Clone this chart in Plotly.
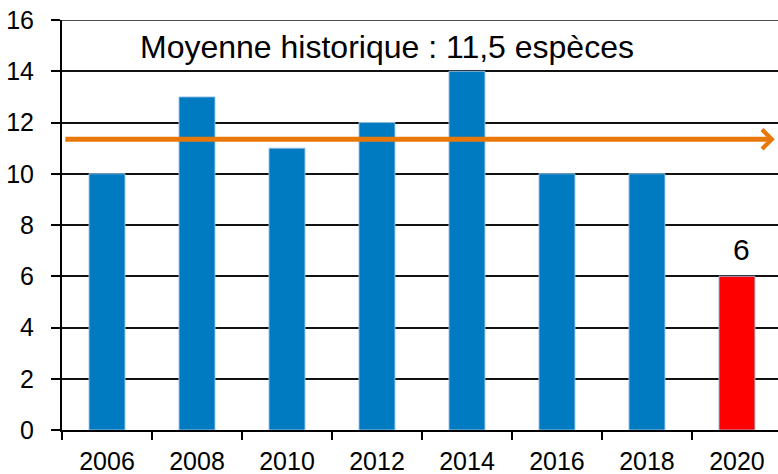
import plotly.graph_objects as go

years = ["2006", "2008", "2010", "2012", "2014", "2016", "2018", "2020"]
species = [10, 13, 11, 12, 14, 10, 10, 6]
bar_colors = ["#007AC0"] * 7 + ["#FF0000"]
mean_label = "Moyenne historique : 11,5 espèces"
mean_drawn = 11.35
y_ticks = [0, 2, 4, 6, 8, 10, 12, 14, 16]

FONT = "Liberation Sans, Arial, sans-serif"

fig = go.Figure()
fig.add_trace(go.Bar(
    x=years, y=species,
    marker=dict(color=bar_colors, line=dict(color="rgba(160,200,235,0.9)", width=1)),
    width=0.4,
))

# top gridline (at the edge of the plot area)
fig.add_shape(type="line", xref="paper", yref="y", x0=0, x1=1, y0=y_ticks[-1], y1=y_ticks[-1],
              line=dict(color="#111", width=1.5), layer="below")

# mean arrow
fig.add_annotation(
    x=len(years) - 0.58, y=mean_drawn, ax=-0.48, ay=mean_drawn,
    xref="x", yref="y", axref="x", ayref="y",
    showarrow=True, arrowhead=4, arrowsize=0.75, arrowwidth=5,
    arrowcolor="#E8780A", text="",
)
fig.add_annotation(
    x=0.4535, y=14.93, xref="paper", yref="y", text=mean_label, showarrow=False,
    xanchor="center", yanchor="middle", font=dict(size=32, color="black", family=FONT),
)
fig.add_annotation(
    x=len(years) - 1, y=species[-1], xref="x", yref="y", text=str(species[-1]),
    showarrow=False, xanchor="center", yanchor="bottom", xshift=5, yshift=8,
    font=dict(size=30, color="black", family=FONT),
)

fig.update_layout(
    width=778, height=474,
    margin=dict(l=62, r=0, t=20, b=44),
    paper_bgcolor="white", plot_bgcolor="white",
    showlegend=False,
    font=dict(family=FONT, size=25, color="black"),
)
fig.update_xaxes(
    type="category", range=[-0.5, 7.456],
    tickson="boundaries", ticks="outside", ticklen=8, tickwidth=2, tickcolor="black",
    showline=True, linecolor="black", linewidth=2, showgrid=False, zeroline=False,
    tickfont=dict(size=25), ticklabelstandoff=8,
)
fig.update_yaxes(
    range=[0, 16], tickvals=y_ticks, ticks="outside", ticklen=9, tickwidth=2, tickcolor="black",
    showline=True, linecolor="black", linewidth=2, showgrid=True, gridcolor="#111", gridwidth=1.5,
    zeroline=False, tickfont=dict(size=25), ticklabelstandoff=12,
)

fig.write_html("out.html", config={"displayModeBar": False},
               post_script="document.body.style.margin='0';document.body.style.overflow='hidden';")
